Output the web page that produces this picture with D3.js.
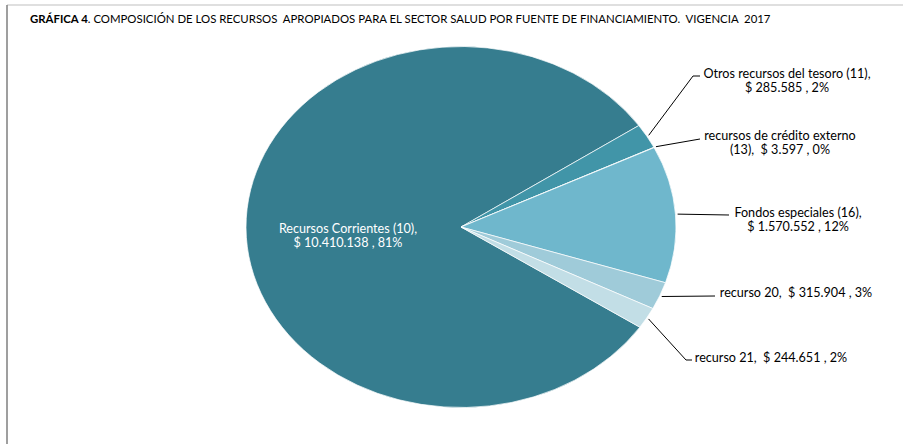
<!DOCTYPE html>
<html>
<head>
<meta charset="utf-8">
<script src="https://cdn.jsdelivr.net/npm/d3@7"></script>
<style>
  body { margin: 0; background: #fff; }
  text { font-family: Lato, "Open Sans", sans-serif; }
</style>
</head>
<body>
<script>
// fuentes de financiamiento, en orden de la serie
var fuentes = ['Recursos Corrientes (10)', 'Otros recursos del tesoro (11)',
               'recursos de crédito externo (13)', 'Fondos especiales (16)',
               'recurso 20', 'recurso 21'];
var valores = [10410138, 285585, 3597, 1570552, 315904, 244651];
var colores = ['#367d8f', '#4195a8', '#4aa0b4', '#6fb7cc', '#9fcbd9', '#c2dee6'];
// texto de las etiquetas, una entrada por linea
var etiquetas = [
  ['Recursos Corrientes (10),', '$ 10.410.138 , 81%'],
  ['Otros recursos del tesoro (11),', '$ 285.585 , 2%'],
  ['recursos de crédito externo', '(13),  $ 3.597 , 0%'],
  ['Fondos especiales (16),', '$ 1.570.552 , 12%'],
  ['recurso 20,  $ 315.904 , 3%'],
  ['recurso 21,  $ 244.651 , 2%']
];

var width = 903, height = 444;
var cx = 461, cy = 227, rx = 215, ry = 180.5;

var svg = d3.select('body')
    .append('svg')
    .attr('width', width)
    .attr('height', height);

// marco del grafico
svg.append('line')
    .attr('x1', 7).attr('y1', 5).attr('x2', width).attr('y2', 5)
    .attr('stroke', '#bfbfbf').attr('stroke-width', 1);
svg.append('line')
    .attr('x1', 7).attr('y1', 5).attr('x2', 7).attr('y2', height)
    .attr('stroke', '#7f7f7f').attr('stroke-width', 1.5);

// titulo
var titulo = svg.append('text')
    .attr('x', 30).attr('y', 23)
    .attr('xml:space', 'preserve')
    .style('font-size', '11.4px')
    .attr('fill', '#000');
titulo.append('tspan').style('font-weight', 'bold').text('GRÁFICA 4');
titulo.append('tspan')
    .text('. COMPOSICIÓN DE LOS RECURSOS  APROPIADOS PARA EL SECTOR SALUD POR FUENTE DE FINANCIAMIENTO.  VIGENCIA  2017');

var total = d3.sum(valores);
var inicio = 55.8 * Math.PI / 180 - 2 * Math.PI * valores[0] / total;

var pie = d3.pie()
    .sort(null)
    .startAngle(inicio)
    .endAngle(inicio + 2 * Math.PI);

var arcs = pie(valores);

var arc = d3.arc().innerRadius(0).outerRadius(rx);

var g = svg.append('g')
    .attr('transform', 'translate(' + cx + ',' + cy + ') scale(1,' + (ry / rx) + ')');

g.selectAll('path')
    .data(arcs)
    .enter()
    .append('path')
    .attr('d', arc)
    .attr('fill', function(d, i) { return colores[i]; })
    .attr('stroke', '#fff')
    .attr('stroke-width', 0.7)
    .attr('vector-effect', 'non-scaling-stroke');

// punto en el borde de la elipse para un angulo (desde el norte, horario)
function borde(a, k) {
  return [cx + rx * k * Math.sin(a), cy - ry * k * Math.cos(a)];
}

// ubicacion de cada etiqueta (centro del texto, linea base de la primera linea)
var posEtiqueta = [
  [348, 233], [787, 78], [780, 140], [798, 217], [796, 297], [771, 362]
];
// codo de la linea guia (null si no hay)
var codo = [null, [693, 76], null, null, null, [686, 360]];
var finGuia = [null, [700, 76], [700, 139], [729, 215], [715, 296], [692, 360]];

var lineaGuia = d3.line();

arcs.forEach(function(d, i) {
  if (i === 0) return;
  var medio = (d.startAngle + d.endAngle) / 2;
  var pts = [borde(medio, 1.01)];
  if (codo[i]) pts.push(codo[i]);
  pts.push(finGuia[i]);
  svg.append('path')
      .attr('d', lineaGuia(pts))
      .attr('fill', 'none')
      .attr('stroke', '#000')
      .attr('stroke-width', 1);
});

etiquetas.forEach(function(lineas, i) {
  var t = svg.append('text')
      .attr('text-anchor', 'middle')
      .attr('xml:space', 'preserve')
      .style('font-size', '12.6px')
      .attr('fill', i === 0 ? '#fff' : '#000');
  lineas.forEach(function(s, j) {
    t.append('tspan')
        .attr('x', posEtiqueta[i][0])
        .attr('y', posEtiqueta[i][1] + j * 14)
        .text(s);
  });
});
</script>
</body>
</html>
